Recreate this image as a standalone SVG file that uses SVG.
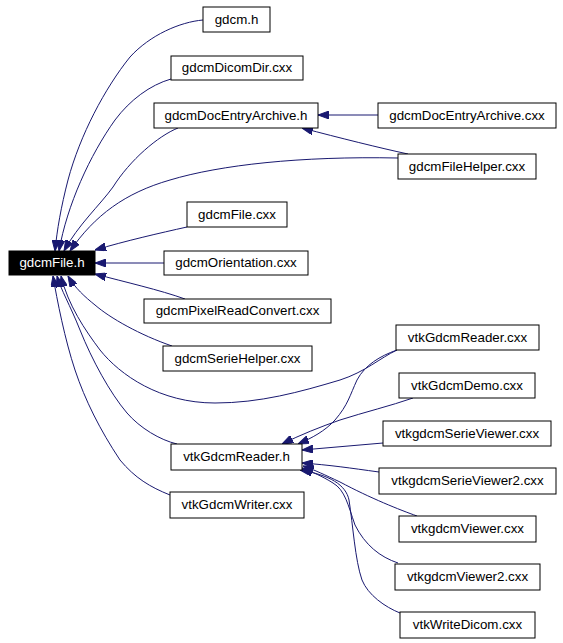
<svg xmlns="http://www.w3.org/2000/svg" width="563" height="643" viewBox="0 0 563 643">
<style>
.n rect{fill:#fff;stroke:#000;stroke-width:1}
.n text{font-family:"Liberation Sans",Arial,sans-serif;font-size:13.33px;fill:#000;text-anchor:middle}
#n_gdcmFile_h rect{fill:#000}
#n_gdcmFile_h text{fill:#fff}
.e path{fill:none;stroke:#191970;stroke-width:1;marker-end:url(#ah)}
</style>
<defs>
<marker id="ah" viewBox="0 0 11 8" refX="11" refY="4" markerWidth="11" markerHeight="8" markerUnits="userSpaceOnUse" orient="auto">
<path d="M0,0 L11,4 L0,8 z" fill="#191970" stroke="#191970" stroke-width="1"/>
</marker>
</defs>
<rect width="563" height="643" fill="#fff"/>
<g id="edges" class="e">
<path d="M203,20 C180,22 150,35 130,57 C105,88 80,135 68,180 C61,207 57,230 55,251"/>
<path d="M171,79 C150,85 130,100 115,120 C90,155 67,205 59,251"/>
<path d="M178,128 C158,136 130,160 113,187 C100,205 78,225 64,251"/>
<path d="M398,158 C300,156 220,165 170,180 C125,193 95,215 70,251"/>
<path d="M378,115 L318,115"/>
<path d="M408,154 C380,148 340,138 302,128"/>
<path d="M187,227 C160,233 125,241 95,250"/>
<path d="M164,263 L95,263"/>
<path d="M185,299 C160,290 125,282 95,274"/>
<path d="M172,346 C140,335 110,318 95,305 C85,297 75,288 68,276"/>
<path d="M397,350 C380,358 365,372 340,380 C300,392 260,403 215,403 C160,403 120,375 100,350 C85,330 68,305 61,276"/>
<path d="M177,444 C160,440 140,428 127,413 C110,393 92,360 80,330 C70,305 61,290 57,276"/>
<path d="M170,495 C150,487 135,478 120,460 C100,430 85,400 75,370 C65,340 57,300 53,276"/>
<path d="M397,350 C380,356 365,365 357,380 C350,395 348,405 335,420 C325,431 312,438 298,444"/>
<path d="M413,398 C390,406 365,412 340,420 C320,427 300,435 282,444"/>
<path d="M383,443 L302,450"/>
<path d="M379,472 C350,468 330,465 302,463"/>
<path d="M417,516 C400,510 370,498 340,482 C325,475 315,470 303,466"/>
<path d="M398,563 C380,557 365,545 355,525 C348,505 345,490 333,483 C322,476 312,472 302,468"/>
<path d="M400,613 C385,607 368,595 362,580 C355,560 353,525 349,500 C346,485 330,475 300,470"/>
</g>
<g id="n_gdcmFile_h" class="n"><rect x="9" y="251" width="86" height="24"/><text x="52" y="267">gdcmFile.h</text></g>
<g id="n_gdcm_h" class="n"><rect x="203" y="7" width="67" height="25"/><text x="236.5" y="24">gdcm.h</text></g>
<g id="n_gdcmDicomDir_cxx" class="n"><rect x="171" y="56" width="132" height="24"/><text x="237" y="72">gdcmDicomDir.cxx</text></g>
<g id="n_gdcmDocEntryArchive_h" class="n"><rect x="154" y="103" width="164" height="25"/><text x="236" y="120">gdcmDocEntryArchive.h</text></g>
<g id="n_gdcmDocEntryArchive_cxx" class="n"><rect x="378" y="103" width="178" height="25"/><text x="467" y="120">gdcmDocEntryArchive.cxx</text></g>
<g id="n_gdcmFileHelper_cxx" class="n"><rect x="398" y="154" width="138" height="25"/><text x="467" y="171">gdcmFileHelper.cxx</text></g>
<g id="n_gdcmFile_cxx" class="n"><rect x="187" y="202" width="100" height="25"/><text x="237" y="219">gdcmFile.cxx</text></g>
<g id="n_gdcmOrientation_cxx" class="n"><rect x="164" y="251" width="144" height="24"/><text x="236" y="267">gdcmOrientation.cxx</text></g>
<g id="n_gdcmPixelReadConvert_cxx" class="n"><rect x="144" y="299" width="187" height="24"/><text x="237.5" y="315">gdcmPixelReadConvert.cxx</text></g>
<g id="n_gdcmSerieHelper_cxx" class="n"><rect x="163" y="346" width="149" height="25"/><text x="237.5" y="363">gdcmSerieHelper.cxx</text></g>
<g id="n_vtkGdcmReader_cxx" class="n"><rect x="396" y="325" width="143" height="25"/><text x="467.5" y="342">vtkGdcmReader.cxx</text></g>
<g id="n_vtkGdcmDemo_cxx" class="n"><rect x="399" y="373" width="136" height="25"/><text x="467" y="390">vtkGdcmDemo.cxx</text></g>
<g id="n_vtkgdcmSerieViewer_cxx" class="n"><rect x="383" y="421" width="168" height="25"/><text x="467" y="438">vtkgdcmSerieViewer.cxx</text></g>
<g id="n_vtkGdcmReader_h" class="n"><rect x="171" y="444" width="131" height="26"/><text x="236.5" y="461">vtkGdcmReader.h</text></g>
<g id="n_vtkgdcmSerieViewer2_cxx" class="n"><rect x="379" y="468" width="177" height="26"/><text x="467.5" y="485">vtkgdcmSerieViewer2.cxx</text></g>
<g id="n_vtkGdcmWriter_cxx" class="n"><rect x="170" y="492" width="134" height="26"/><text x="237" y="509">vtkGdcmWriter.cxx</text></g>
<g id="n_vtkgdcmViewer_cxx" class="n"><rect x="399" y="516" width="137" height="26"/><text x="467.5" y="533">vtkgdcmViewer.cxx</text></g>
<g id="n_vtkgdcmViewer2_cxx" class="n"><rect x="395" y="564" width="145" height="26"/><text x="467.5" y="581">vtkgdcmViewer2.cxx</text></g>
<g id="n_vtkWriteDicom_cxx" class="n"><rect x="400" y="612" width="135" height="26"/><text x="467.5" y="629">vtkWriteDicom.cxx</text></g>
</svg>
